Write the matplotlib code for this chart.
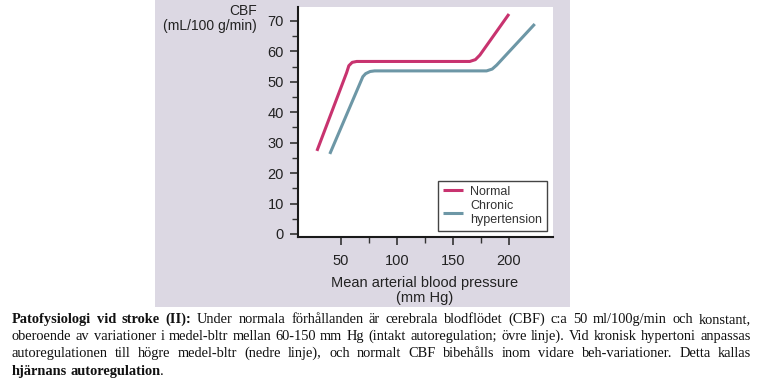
"""
CBF autoregulation curve (normal vs chronic hypertension) with Swedish caption
"""
import numpy as np
import matplotlib.pyplot as plt
from matplotlib.patches import Rectangle
from matplotlib.ticker import MultipleLocator, FixedLocator

# curve vertices: mean arterial pressure [mm Hg] vs CBF [mL/100 g/min]
normal_map = [28.5, 55, 57, 60, 64, 165, 170, 174, 200]
normal_cbf = [27.3, 53.0, 55.3, 56.4, 56.7, 56.7, 57.3, 58.8, 72.3]

chronic_map = [40, 69.5, 72, 76, 80, 180, 185, 189, 223]
chronic_cbf = [26.3, 51.7, 52.7, 53.4, 53.6, 53.6, 54.2, 55.5, 69.0]

series_names = ["Normal", "Chronic\nhypertension"]
series_colors = ["#c8336f", "#6d97a6"]

x_ticks = [50, 100, 150, 200]
x_minor = [75, 125, 175]
y_ticks = [0, 10, 20, 30, 40, 50, 60, 70]

caption_lines = [
    "Patofysiologi vid stroke (II): Under normala förhållanden är cerebrala blodflödet (CBF) c:a 50 ml/100g/min och konstant,",
    "oberoende av variationer i medel-bltr mellan 60-150 mm Hg (intakt autoregulation; övre linje). Vid kronisk hypertoni anpassas",
    "autoregulationen till högre medel-bltr (nedre linje), och normalt CBF bibehålls inom vidare beh-variationer. Detta kallas",
    "hjärnans autoregulation.",
]
# number of leading bold words per caption line
caption_bold = [4, 0, 0, 2]

W, H = 757, 385


def fx(px):
    return px / W


def fy(py):
    return 1 - py / H


def put_caption(fig):
    renderer = fig.canvas.get_renderer()
    x0, x1 = 12, 751
    baselines = [323, 340, 357, 375]
    size = 10.4
    for i, line in enumerate(caption_lines):
        words = line.split(" ")
        if i == 3:
            # bold words then a normal period
            pieces = [("hjärnans", True), ("autoregulation", True), (".", False)]
        else:
            pieces = [(w, j < caption_bold[i]) for j, w in enumerate(words)]
        texts = []
        for w, bold in pieces:
            t = fig.text(0, fy(baselines[i]), w, fontsize=size,
                         family="Liberation Serif",
                         weight="bold" if bold else "normal",
                         va="baseline", ha="left", color="#111111")
            texts.append(t)
        widths = [t.get_window_extent(renderer).width for t in texts]
        if i < 3:
            gap = (x1 - x0 - sum(widths)) / (len(texts) - 1)
            x = x0
            for t, w in zip(texts, widths):
                t.set_x(fx(x))
                x += w + gap
        else:
            space = size * 100 / 72 * 0.25
            x = x0
            t0, t1, t2 = texts
            t0.set_x(fx(x))
            x += widths[0] + space
            t1.set_x(fx(x))
            x += widths[1] - 1
            t2.set_x(fx(x))


def main():
    plt.rcParams["font.family"] = ["Liberation Sans", "DejaVu Sans"]
    fig = plt.figure(figsize=(W / 100, H / 100), dpi=100)

    # gray slide panel behind the chart
    fig.patches.append(Rectangle((fx(155), fy(307)), fx(415), 307 / H,
                                 transform=fig.transFigure, facecolor="#dcd8e3",
                                 edgecolor="none", zorder=-5))

    ax = fig.add_axes([fx(298), fy(237), fx(553 - 298), (237 - 7) / H])
    ax.set_zorder(1)
    ax.set_facecolor("white")

    ax.plot(normal_map, normal_cbf, color=series_colors[0], lw=2.2,
            label=series_names[0], solid_capstyle="butt")
    ax.plot(chronic_map, chronic_cbf, color=series_colors[1], lw=2.2,
            label=series_names[1], solid_capstyle="butt")

    ax.set_xlim(11.6, 239.3)
    ax.set_ylim(-1.0, 74.6)
    ax.set_xticks(x_ticks)
    ax.set_yticks(y_ticks)
    ax.xaxis.set_minor_locator(FixedLocator(x_minor))
    ax.yaxis.set_minor_locator(MultipleLocator(5))

    for s in ["top", "right"]:
        ax.spines[s].set_visible(False)
    for s in ["left", "bottom"]:
        ax.spines[s].set_linewidth(1.5)
        ax.spines[s].set_color("#1a1a1a")

    ax.tick_params(which="major", length=6, width=1.2, color="#333333",
                   labelsize=10.5, labelcolor="#222222")
    ax.tick_params(which="minor", length=4, width=1.0, color="#333333")
    ax.tick_params(axis="y", which="major", pad=4)
    ax.tick_params(axis="x", which="major", pad=6)

    fig.text(fx(257), fy(4), "CBF\n(mL/100 g/min)", ha="right", va="top",
             multialignment="right", fontsize=10, color="#222222", linespacing=1.05)
    fig.text(fx(425), fy(276), "Mean arterial blood pressure\n(mm Hg)", ha="center",
             va="top", fontsize=10.5, color="#222222", linespacing=1.1)

    leg = ax.legend(loc="lower right", bbox_to_anchor=(fx(547), fy(231)),
                    bbox_transform=fig.transFigure, fontsize=9, frameon=True,
                    fancybox=False, framealpha=1, edgecolor="#444444",
                    handlelength=1.6, handletextpad=0.6, borderpad=0.4,
                    labelspacing=0.2, borderaxespad=0)
    leg.get_frame().set_linewidth(1.0)
    for t in leg.get_texts():
        t.set_color("#333333")

    put_caption(fig)

    fig.savefig("out.png", dpi=100, facecolor="white")


if __name__ == "__main__":
    main()
